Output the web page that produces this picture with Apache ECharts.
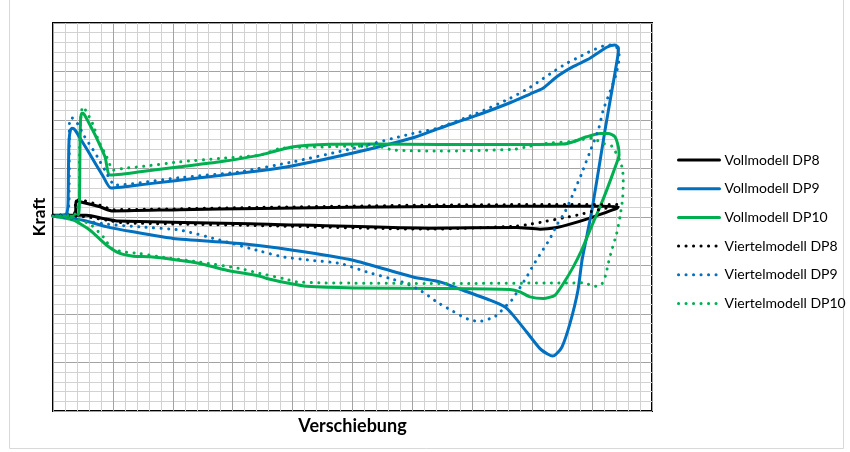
<!DOCTYPE html>
<html>
<head>
<meta charset="utf-8">
<script src="https://cdn.jsdelivr.net/npm/echarts@6/dist/echarts.min.js"></script>
<style>
  html, body { margin: 0; padding: 0; background: #fff; }
  #chart { width: 850px; height: 452px; }
</style>
</head>
<body>
<div id="chart"></div>
<script>
// Force–displacement hysteresis loops, [Verschiebung, Kraft] pairs in path order
const seriesNames = [
  'Vollmodell DP8', 'Vollmodell DP9', 'Vollmodell DP10',
  'Viertelmodell DP8', 'Viertelmodell DP9', 'Viertelmodell DP10'
];
const seriesColors = ['#000000', '#0070c0', '#00b050', '#000000', '#0070c0', '#00b050'];

const vollDP8 = [
  [0, 0.19], [1.67, 0.14], [1.88, 0.4], [1.92, 1.64], [2.25, 1.58], [3.92, 1.05], [4.9, 0.63],
  [10.6, 0.76], [17.28, 0.88], [32.3, 1.09], [45.1, 1.12], [47.19, 1.07], [47.05, 0.88],
  [45.93, 0.37], [44.55, -0.22], [43.16, -0.74], [42.05, -1.08], [40.65, -1.25], [38.71, -1.08],
  [31.47, -1.15], [16.44, -0.69], [5.32, -0.4], [4.2, -0.15], [2.81, 0.19], [0, 0.19]
];
const vollDP9 = [
  [0, 0.09], [1.09, 0.29], [1.25, 1.22], [1.29, 4.83], [1.34, 7.93], [1.46, 8.97], [1.59, 9.14],
  [1.84, 8.97], [2.25, 8.14], [2.92, 6.8], [3.51, 5.56], [4.17, 4.22], [4.84, 2.98],
  [8.1, 3.44], [12.27, 4.04], [17.28, 4.76], [20.03, 5.28], [25.04, 6.59], [30.05, 8.17],
  [32.3, 9.17], [35.06, 10.34], [38.15, 11.78], [39.82, 12.68], [40.9, 13.27], [42.05, 14.46],
  [43.41, 15.5], [44.82, 16.36], [46.22, 17.5], [46.91, 17.73], [47.2, 17.42], [47.16, 16.7],
  [46.66, 13.09], [46.08, 8.97], [44.99, 0.71], [44.16, -4.45], [43.82, -7.55], [43.16, -10.95],
  [42.49, -13.4], [41.99, -14.15], [41.71, -14.33], [41.32, -14.15], [40.65, -13.57],
  [39.54, -11.86], [38.42, -10.14], [37.73, -9.28], [36.48, -8.58], [34.22, -7.55],
  [32.3, -6.69], [30.05, -6.18], [25.04, -4.45], [20.03, -3.42], [15.61, -2.73],
  [10.02, -2.21], [6.68, -1.53], [4.51, -1.02], [2.5, -0.33], [0, 0.09]
];
const vollDP10 = [
  [0, 0.09], [1.59, 0.09], [2.13, 0.29], [2.21, 1.74], [2.25, 6.9], [2.3, 10.0], [2.4, 10.69],
  [2.59, 10.61], [3.09, 9.48], [3.65, 8.11], [4.34, 6.2], [4.76, 4.32], [7.26, 4.66],
  [10.6, 5.18], [13.94, 5.69], [17.28, 6.38], [17.84, 6.56], [20.06, 7.24], [23.12, 7.49],
  [26.74, 7.52], [32.3, 7.47], [38.15, 7.47], [42.6, 7.52], [43.43, 7.76], [44.55, 8.27],
  [45.66, 8.62], [46.35, 8.62], [46.91, 8.27], [47.19, 7.24], [47.25, 6.38], [46.99, 5.35],
  [46.22, 2.77], [45.66, 1.05], [44.82, -1.36], [44.13, -3.42], [43.43, -5.14], [42.6, -6.86],
  [41.9, -8.06], [40.93, -8.41], [39.82, -8.24], [38.98, -7.72], [38.15, -7.48], [32.3, -7.37],
  [25.07, -7.31], [21.18, -7.14], [19.78, -6.86], [17.84, -6.34], [17.28, -6.1], [14.5, -5.49],
  [12.27, -4.79], [10.04, -4.38], [8.1, -4.11], [6.7, -4.04], [5.59, -3.76], [4.48, -2.91],
  [3.09, -1.36], [1.69, -0.33], [0, 0.09]
];
const viertelDP8 = [
  [0, 0.19], [1.75, 0.29], [1.92, 1.74], [2.25, 1.74], [3.92, 1.22], [5.03, 0.76],
  [17.28, 0.99], [32.3, 1.24], [47.05, 1.3], [47.19, 1.12], [46.49, 0.99], [45.38, 0.71],
  [43.99, 0.26], [42.6, -0.09], [41.21, -0.43], [39.82, -0.74], [38.71, -0.94], [31.47, -1.25],
  [15.61, -0.84], [5.87, -0.6], [4.48, -0.33], [2.81, 0.02], [0, 0.19]
];
const viertelDP9 = [
  [0, 0.09], [1.17, 0.29], [1.34, 1.74], [1.36, 7.93], [1.38, 9.72], [1.56, 10.23], [1.92, 9.89],
  [2.61, 8.34], [3.36, 6.9], [3.7, 6.21], [4.34, 4.83], [5.18, 3.29], [10.6, 4.06],
  [15.61, 4.66], [20.03, 5.69], [25.04, 7.07], [30.05, 8.62], [32.03, 9.14], [35.37, 10.69],
  [38.15, 12.23], [39.82, 13.37], [40.65, 14.05], [41.76, 14.98], [42.88, 15.85], [43.71, 16.36],
  [44.41, 16.81], [45.1, 17.22], [45.93, 17.63], [46.49, 17.73], [47.08, 17.43], [47.27, 16.53],
  [46.99, 14.65], [46.49, 12.88], [45.93, 11.03], [45.52, 8.97], [44.82, 6.72], [44.13, 4.49],
  [43.43, 2.43], [42.74, 0.53], [42.05, -0.84], [41.49, -2.21], [40.79, -3.6], [40.09, -4.97],
  [39.54, -6.18], [38.84, -7.55], [38.29, -8.58], [37.87, -9.1], [37.04, -10.13], [36.48, -10.47],
  [35.92, -10.72], [35.28, -10.72], [34.67, -10.54], [34.12, -10.23], [33.14, -9.54],
  [32.03, -8.76], [31.47, -8.24], [30.63, -7.55], [29.52, -6.86], [28.13, -6.34], [26.19, -5.66],
  [23.96, -4.79], [21.45, -4.45], [19.22, -4.11], [17.28, -3.52], [13.94, -2.39], [10.6, -1.35],
  [7.26, -1.02], [4.48, -0.74], [2.25, -0.33], [0, 0.09]
];
const viertelDP10 = [
  [0, 0.09], [1.75, 0.19], [2.2, 1.74], [2.21, 6.21], [2.3, 10.0], [2.48, 11.37], [2.81, 10.85],
  [3.09, 10.17], [3.36, 9.48], [3.78, 7.93], [4.48, 6.21], [5.03, 4.83], [5.87, 5.01],
  [7.26, 5.18], [10.6, 5.69], [13.94, 6.04], [17.28, 6.38], [18.95, 7.07], [20.62, 7.18],
  [23.12, 7.24], [25.07, 7.31], [27.3, 7.24], [28.41, 6.9], [32.3, 6.8], [38.42, 6.97],
  [39.82, 7.31], [41.21, 7.59], [43.16, 7.78], [44.97, 8.11], [45.93, 7.59], [46.64, 7.31],
  [47.33, 5.79], [47.55, 4.83], [47.6, 3.46], [47.55, 1.91], [47.33, 0.02], [47.05, -1.7],
  [46.64, -3.42], [46.35, -4.79], [46.13, -6.0], [45.8, -6.93], [45.24, -7.14], [44.27, -6.79],
  [32.3, -6.86], [22.56, -6.79], [20.34, -6.69], [19.22, -6.34], [17.28, -5.83], [15.61, -5.31],
  [12.27, -4.66], [8.93, -4.11], [7.26, -3.76], [5.87, -3.6], [4.9, -3.25], [4.2, -2.05],
  [3.09, -0.74], [1.42, -0.02], [0, 0.09]
];

const seriesData = [vollDP8, vollDP9, vollDP10, viertelDP8, viertelDP9, viertelDP10];

const chart = echarts.init(document.getElementById('chart'), null, { renderer: 'canvas' });

const makeAxis = (min, max) => ({
  type: 'value',
  min: min,
  max: max,
  interval: 5,
  axisLabel: { show: false },
  axisTick: { show: false },
  axisLine: { show: false },
  splitLine: { show: true, lineStyle: { color: '#a3a3a3', width: 1 } },
  minorTick: { show: false, splitNumber: 5 },
  minorSplitLine: { show: true, lineStyle: { color: '#d2d2d2', width: 1 } }
});

const titleStyle = { fontFamily: 'Lato', fontWeight: 'bold', fontSize: 18, color: '#000' };

const xAxis = Object.assign(makeAxis(0, 50), {
  name: 'Verschiebung',
  nameLocation: 'middle',
  nameGap: 6,
  nameTextStyle: Object.assign({ verticalAlign: 'top' }, titleStyle)
});
const yAxis = Object.assign(makeAxis(-20, 20), {
  name: 'Kraft',
  nameLocation: 'middle',
  nameGap: 5,
  nameRotate: 90,
  nameTextStyle: Object.assign({}, titleStyle, { fontSize: 17 })
});

const series = seriesNames.map((name, i) => {
  const dotted = i >= 3;
  return {
    name: name,
    type: 'line',
    data: seriesData[i],
    symbol: 'none',
    smooth: 0.2,
    z: dotted ? 3 : 2,
    lineStyle: {
      color: seriesColors[i],
      width: 3,
      type: dotted ? [0.1, 7.4] : 'solid',
      cap: 'round',
      join: 'round'
    },
    itemStyle: { color: seriesColors[i] },
    emphasis: { disabled: true }
  };
});

chart.setOption({
  animation: false,
  backgroundColor: '#ffffff',
  grid: {
    left: 53, top: 23, right: 198, bottom: 41,
    show: true, borderColor: '#000000', borderWidth: 2, backgroundColor: 'transparent'
  },
  xAxis: xAxis,
  yAxis: yAxis,
  legend: {
    orient: 'vertical',
    left: 677,
    top: 153,
    padding: 0,
    itemWidth: 41,
    itemHeight: 14,
    itemGap: 14.7,
    selectedMode: false,
    itemStyle: { opacity: 0 },
    lineStyle: { width: 3 },
    textStyle: { fontFamily: 'Lato', fontSize: 14, color: '#000' },
    data: seriesNames
  },
  graphic: [{
    type: 'rect',
    silent: true,
    shape: { x: 9.5, y: -2, width: 834, height: 450.5 },
    style: { fill: 'none', stroke: '#d9d9d9', lineWidth: 1 }
  }],
  series: series
});
</script>
</body>
</html>
